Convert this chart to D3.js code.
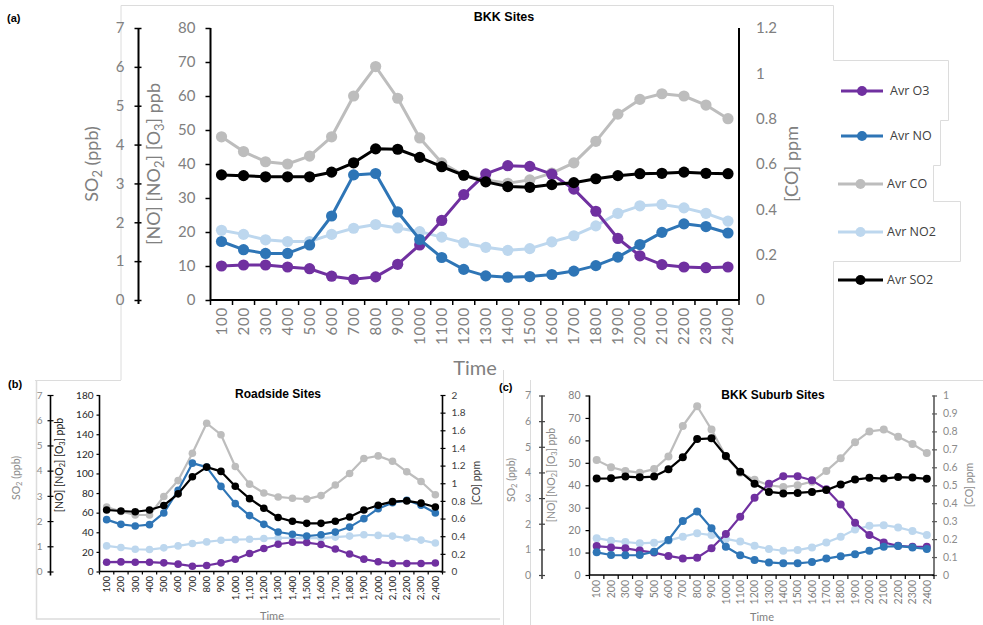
<!DOCTYPE html>
<html>
<head>
<meta charset="utf-8">
<script src="https://cdn.jsdelivr.net/npm/d3@7"></script>
<style>
  body { margin: 0; background: #fff; }
  svg { display: block; }
</style>
</head>
<body>
<svg id="chart" width="983" height="625"></svg>
<script>
// ---- Hour-of-day categories ----
const hoursA = ["100","200","300","400","500","600","700","800","900","1000","1100","1200",
                "1300","1400","1500","1600","1700","1800","1900","2000","2100","2200","2300","2400"];
const hoursB = ["100","200","300","400","500","600","700","800","900","1,000","1,100","1,200",
                "1,300","1,400","1,500","1,600","1,700","1,800","1,900","2,000","2,100","2,200","2,300","2,400"];
const hoursC = hoursA.slice();

// ---- (a) BKK Sites ----
const aO3  = [10.0, 10.3, 10.3, 9.7, 9.2, 7.0, 6.1, 6.8, 10.5, 16.2, 23.4, 31.0, 37.1, 39.5, 39.3, 37.0, 32.6, 26.1, 18.1, 13.0, 10.4, 9.7, 9.5, 9.7];
const aNO  = [17.2, 14.8, 13.7, 13.7, 16.2, 24.7, 36.8, 37.2, 25.9, 17.8, 12.5, 9.0, 7.1, 6.7, 6.9, 7.5, 8.5, 10.1, 12.6, 16.3, 19.9, 22.4, 21.6, 19.7];
const aNO2 = [20.5, 19.3, 17.7, 17.2, 17.2, 19.3, 21.1, 22.2, 21.2, 20.1, 18.5, 16.8, 15.5, 14.6, 15.1, 17.1, 18.9, 21.8, 25.5, 27.7, 28.1, 27.1, 25.5, 23.2];
const aCO  = [0.72, 0.655, 0.61, 0.60, 0.635, 0.72, 0.90, 1.03, 0.89, 0.715, 0.605, 0.55, 0.53, 0.515, 0.53, 0.56, 0.605, 0.70, 0.82, 0.885, 0.91, 0.90, 0.86, 0.80];
const aSO2 = [3.22, 3.20, 3.17, 3.17, 3.17, 3.29, 3.53, 3.89, 3.88, 3.67, 3.43, 3.21, 3.04, 2.92, 2.90, 2.97, 3.02, 3.12, 3.20, 3.25, 3.26, 3.29, 3.26, 3.25];

// ---- (b) Roadside Sites ----
const bO3  = [9.5, 9.8, 9.5, 9.5, 8.8, 7.5, 5.4, 6.1, 8.8, 12.5, 18.3, 23.4, 27.8, 29.8, 29.5, 27.5, 23.0, 17.8, 12.6, 9.9, 8.2, 8.2, 8.2, 8.6];
const bNO  = [52.9, 48.1, 46.4, 47.8, 59.7, 82.7, 110.5, 106.4, 86.8, 69.2, 57.0, 48.1, 40.3, 38.0, 36.1, 37.5, 40.2, 45.3, 53.9, 64.1, 70.2, 72.6, 67.5, 59.7];
const bNO2 = [26.1, 24.4, 22.7, 22.4, 24.1, 26.1, 28.5, 30.2, 31.9, 32.5, 32.9, 33.6, 34.2, 34.2, 34.1, 34.1, 35.1, 36.1, 37.5, 36.8, 36.1, 34.1, 32.0, 29.0];
const bCO  = [0.73, 0.68, 0.64, 0.64, 0.85, 1.03, 1.34, 1.68, 1.55, 1.19, 0.99, 0.89, 0.845, 0.83, 0.82, 0.86, 0.98, 1.11, 1.28, 1.31, 1.25, 1.13, 1.02, 0.87];
const bSO2 = [2.44, 2.40, 2.37, 2.44, 2.62, 3.08, 3.76, 4.14, 3.97, 3.38, 2.89, 2.51, 2.14, 1.99, 1.91, 1.91, 1.99, 2.16, 2.44, 2.63, 2.77, 2.80, 2.71, 2.56];

// ---- (c) BKK Suburb Sites ----
const cO3  = [12.9, 12.3, 11.9, 10.9, 10.0, 8.5, 7.4, 7.7, 11.9, 18.3, 26.0, 34.4, 40.7, 44.0, 44.0, 42.2, 38.2, 31.4, 23.3, 17.8, 14.5, 13.0, 12.6, 12.6];
const cNO  = [10.1, 8.9, 8.8, 8.9, 10.4, 15.6, 24.1, 28.3, 20.8, 12.6, 8.8, 6.7, 5.6, 5.2, 5.2, 5.8, 7.3, 8.4, 9.3, 10.8, 12.6, 12.9, 12.3, 11.6];
const cNO2 = [16.4, 15.3, 14.7, 14.1, 14.4, 15.3, 17.1, 18.6, 17.8, 16.1, 14.9, 13.0, 11.6, 10.8, 11.1, 12.3, 14.5, 17.0, 20.3, 21.9, 22.2, 21.2, 19.6, 17.8];
const cCO  = [0.64, 0.60, 0.58, 0.57, 0.59, 0.66, 0.83, 0.94, 0.81, 0.66, 0.57, 0.53, 0.50, 0.49, 0.50, 0.52, 0.58, 0.65, 0.74, 0.80, 0.81, 0.77, 0.73, 0.68];
const cSO2 = [3.76, 3.77, 3.84, 3.81, 3.84, 4.12, 4.59, 5.30, 5.33, 4.64, 4.03, 3.56, 3.24, 3.18, 3.20, 3.24, 3.31, 3.53, 3.72, 3.79, 3.76, 3.82, 3.80, 3.75];

// Legend entries and colours
const seriesNames  = ["Avr O3", "Avr NO", "Avr CO", "Avr NO2", "Avr SO2"];
const seriesColors = { O3: "#7030A0", NO: "#2E75B6", CO: "#BDBDBD", NO2: "#BDD7EE", SO2: "#000000" };
const legendKeys   = ["O3", "NO", "CO", "NO2", "SO2"];

const svg = d3.select("#chart");
const TICK_FONT = "Lato, 'Open Sans', sans-serif";
const TITLE_FONT = "'Liberation Sans', Arial, sans-serif";

// Light panel border strokes
const frame = svg.append("g").attr("fill", "none").attr("stroke", "#dcdcdc").attr("stroke-width", 1);
frame.append("path").attr("d",
  "M121,380 V5.5 H833.5 V60.5 H948.5 V120.5 H940.5 V165.5 H933.5 V201.5 H960.5 V261.5 H833.5 V380.5");
frame.append("path").attr("d", "M35,380.5 H121 M833.5,370 V380.5 H983");
frame.append("path").attr("d", "M36.5,380.5 V619 H500").attr("stroke-width", 1.5);
frame.append("path").attr("d", "M503.5,370 V625 M530.5,380 V625");

// Axis title with subscript parts
function richText(sel, parts, size) {
  parts.forEach(([t, sub]) => {
    const ts = sel.append("tspan").text(t);
    if (sub) ts.attr("font-size", size * 0.72).attr("dy", size * 0.22);
    else ts.attr("dy", 0);
  });
  // re-align baseline after subscripts
  sel.selectAll("tspan").each(function(d, i, nodes) {
    if (i > 0 && parts[i - 1][1] && !parts[i][1]) d3.select(this).attr("dy", -size * 0.22);
  });
}
const so2Title  = [["SO", 0], ["2", 1], [" (ppb)", 0]];
const mainTitle = [["[NO] [NO", 0], ["2", 1], ["] [O", 0], ["3", 1], ["] ppb", 0]];
const coTitle   = [["[CO] ppm", 0]];

function vTitle(g, x, y, parts, size, color, weight) {
  const t = g.append("text")
    .attr("transform", `translate(${x},${y}) rotate(-90)`)
    .attr("text-anchor", "middle").attr("dy", "0.35em")
    .attr("font-family", TICK_FONT).attr("font-size", size)
    .attr("font-weight", weight || "normal")
    .attr("fill", color);
  richText(t, parts, size);
}

function fmt(step) {
  return d => {
    const s = (+d).toFixed(step < 1 ? 1 : 0);
    return s.endsWith(".0") ? s.slice(0, -2) : s;
  };
}

function drawPanel(p) {
  const g = svg.append("g");
  const x = d3.scaleBand().domain(p.labels).range([p.x0, p.x1]);
  const bw = x.bandwidth();
  const cx = i => x(p.labels[i]) + bw / 2;
  const yMain = d3.scaleLinear().domain([0, p.mainMax]).range([p.yBot, p.yTop]);
  const yCO   = d3.scaleLinear().domain([0, p.coMax]).range([p.yBot, p.yTop]);
  const ySO2  = d3.scaleLinear().domain([0, 7]).range([p.yBot, p.yTop]);

  const ticksOf = (max, step) => d3.range(0, Math.round(max / step) + 1).map(i => +(i * step).toFixed(2));

  // SO2 axis (far left)
  const aS = g.append("g").attr("transform", `translate(${p.so2X},0)`)
    .call(d3.axisLeft(ySO2).tickValues(ticksOf(7, 1)).tickFormat(fmt(1))
      .tickSize(p.so2Tick).tickPadding(p.so2Pad));
  aS.select(".domain").attr("stroke", p.so2AxisColor).attr("stroke-width", p.axisW)
    .attr("d", `M0,${p.yTop}V${p.yBot + 4}`);
  aS.selectAll(".tick line").attr("stroke", p.so2AxisColor).attr("stroke-width", p.axisW * 0.75)
    .attr("x1", 3);
  aS.selectAll(".tick text").attr("fill", p.so2LabelColor)
    .attr("font-family", TICK_FONT).attr("font-size", p.tickSize);

  // Main (ppb) axis
  const aM = g.append("g").attr("transform", `translate(${p.x0},0)`)
    .call(d3.axisLeft(yMain).tickValues(ticksOf(p.mainMax, p.mainStep)).tickFormat(fmt(1))
      .tickSize(p.mainTick).tickPadding(p.mainPad));
  aM.select(".domain").attr("stroke", "#000").attr("stroke-width", p.axisW)
    .attr("d", `M0,${p.yTop}V${p.yBot}`);
  aM.selectAll(".tick line").attr("stroke", "#000").attr("stroke-width", p.axisW * 0.75);
  aM.selectAll(".tick text").attr("fill", p.mainLabelColor)
    .attr("font-family", TICK_FONT).attr("font-size", p.tickSize);

  // CO axis (right)
  const aC = g.append("g").attr("transform", `translate(${p.x1},0)`)
    .call(d3.axisRight(yCO).tickValues(ticksOf(p.coMax, p.coStep)).tickFormat(fmt(p.coStep))
      .tickSize(p.coTick).tickPadding(p.coPad));
  aC.select(".domain").attr("stroke", p.coAxisColor).attr("stroke-width", p.axisW)
    .attr("d", `M0,${p.yTop}V${p.yBot}`);
  aC.selectAll(".tick line").attr("stroke", p.coAxisColor).attr("stroke-width", p.axisW * 0.75)
    .attr("x1", p.coTick > 0 ? -2 : 0);
  aC.selectAll(".tick text").attr("fill", p.coLabelColor)
    .attr("font-family", TICK_FONT).attr("font-size", p.tickSize);

  // Category (time) axis
  const xa = g.append("g");
  xa.append("line").attr("x1", p.x0).attr("x2", p.x1).attr("y1", p.yBot).attr("y2", p.yBot)
    .attr("stroke", "#000").attr("stroke-width", p.axisW);
  const edges = p.labels.map(l => x(l)).concat([p.x1]);
  xa.selectAll("line.tk").data(edges).join("line").attr("class", "tk")
    .attr("x1", d => d).attr("x2", d => d)
    .attr("y1", p.yBot).attr("y2", p.yBot + p.xTick)
    .attr("stroke", "#000").attr("stroke-width", p.axisW * 0.75);
  xa.selectAll("text").data(p.labels).join("text")
    .attr("transform", d => `translate(${x(d) + bw / 2},${p.xLabelY}) rotate(-90)`)
    .attr("text-anchor", "end").attr("dy", "0.35em")
    .attr("font-family", TICK_FONT).attr("font-size", p.xTickSize)
    .attr("letter-spacing", p.xSpacing)
    .attr("fill", p.xLabelColor)
    .text(d => d);

  // Titles
  vTitle(g, p.so2TitleX, p.titleY, so2Title, p.axTitleSize, p.so2TitleColor);
  vTitle(g, p.mainTitleX, p.mainTitleY, mainTitle, p.axTitleSize, p.mainTitleColor);
  vTitle(g, p.coTitleX, p.coTitleY, coTitle, p.axTitleSize, p.coTitleColor);
  g.append("text").attr("x", p.timeX).attr("y", p.timeY).attr("text-anchor", "middle")
    .attr("font-family", TICK_FONT).attr("font-size", p.timeSize).attr("fill", "#808080").text("Time");
  g.append("text").attr("x", p.headX).attr("y", p.headY).attr("text-anchor", "middle")
    .attr("font-family", TITLE_FONT).attr("font-weight", "bold").attr("font-size", p.headSize)
    .attr("fill", "#000").text(p.head);
  g.append("text").attr("x", p.tagX).attr("y", p.tagY)
    .attr("font-family", TITLE_FONT).attr("font-weight", "bold").attr("font-size", 11)
    .attr("fill", "#000").text(p.tag);

  // Series, back to front
  const series = [
    { key: "NO2", vals: p.NO2, y: yMain },
    { key: "CO",  vals: p.CO,  y: yCO },
    { key: "O3",  vals: p.O3,  y: yMain },
    { key: "NO",  vals: p.NO,  y: yMain },
    { key: "SO2", vals: p.SO2, y: ySO2 }
  ];
  series.forEach(s => {
    const sg = g.append("g");
    const line = d3.line().x((d, i) => cx(i)).y(d => s.y(d));
    sg.append("path").datum(s.vals).attr("d", line)
      .attr("fill", "none").attr("stroke", seriesColors[s.key])
      .attr("stroke-width", p.lineW).attr("stroke-linejoin", "round");
    sg.selectAll("circle").data(s.vals).join("circle")
      .attr("cx", (d, i) => cx(i)).attr("cy", d => s.y(d)).attr("r", p.r)
      .attr("fill", seriesColors[s.key]);
  });
}

drawPanel({
  labels: hoursA, x0: 210.5, x1: 739, yTop: 28, yBot: 300,
  so2X: 138.5, mainMax: 80, mainStep: 10, coMax: 1.2, coStep: 0.2,
  O3: aO3, NO: aNO, NO2: aNO2, CO: aCO, SO2: aSO2,
  axisW: 2, lineW: 3, r: 5.6,
  tickSize: 15, xTickSize: 15, xSpacing: 0.8, xLabelY: 307,
  so2Tick: 4, so2Pad: 10, mainTick: 5, mainPad: 10, coTick: 0, coPad: 17, xTick: 5,
  so2AxisColor: "#000", coAxisColor: "#000",
  so2LabelColor: "#808080", mainLabelColor: "#808080", coLabelColor: "#808080", xLabelColor: "#808080",
  axTitleSize: 18, so2TitleColor: "#808080", mainTitleColor: "#808080", coTitleColor: "#808080",
  so2TitleX: 98, titleY: 164, mainTitleX: 160, mainTitleY: 164, coTitleX: 798, coTitleY: 164,
  timeX: 475, timeY: 375, timeSize: 20,
  head: "BKK Sites", headX: 504, headY: 21, headSize: 12.5,
  tag: "(a)", tagX: 7, tagY: 22
});

drawPanel({
  labels: hoursB, x0: 99.5, x1: 442.5, yTop: 395, yBot: 571.5,
  so2X: 50.5, mainMax: 180, mainStep: 20, coMax: 2, coStep: 0.2,
  O3: bO3, NO: bNO, NO2: bNO2, CO: bCO, SO2: bSO2,
  axisW: 1.6, lineW: 2.2, r: 3.8,
  tickSize: 10, xTickSize: 9.5, xSpacing: 0, xLabelY: 576,
  so2Tick: 3, so2Pad: 5, mainTick: 3, mainPad: 3, coTick: 3, coPad: 6, xTick: 3,
  so2AxisColor: "#000", coAxisColor: "#000",
  so2LabelColor: "#8c8c8c", mainLabelColor: "#262626", coLabelColor: "#404040", xLabelColor: "#262626",
  axTitleSize: 10.5, so2TitleColor: "#8c8c8c", mainTitleColor: "#1a1a1a", coTitleColor: "#404040",
  so2TitleX: 20, titleY: 478, mainTitleX: 63, mainTitleY: 465, coTitleX: 480, coTitleY: 483,
  timeX: 272, timeY: 620, timeSize: 11,
  head: "Roadside Sites", headX: 278, headY: 398, headSize: 12,
  tag: "(b)", tagX: 8, tagY: 388
});

drawPanel({
  labels: hoursC, x0: 589.5, x1: 934, yTop: 395.5, yBot: 575,
  so2X: 542, mainMax: 80, mainStep: 10, coMax: 1, coStep: 0.1,
  O3: cO3, NO: cNO, NO2: cNO2, CO: cCO, SO2: cSO2,
  axisW: 1.6, lineW: 2.2, r: 4,
  tickSize: 10.5, xTickSize: 10.5, xSpacing: 0, xLabelY: 580,
  so2Tick: 3, so2Pad: 8, mainTick: 4, mainPad: 5, coTick: 3, coPad: 6, xTick: 4,
  so2AxisColor: "#404040", coAxisColor: "#595959",
  so2LabelColor: "#8c8c8c", mainLabelColor: "#808080", coLabelColor: "#8c8c8c", xLabelColor: "#808080",
  axTitleSize: 10.5, so2TitleColor: "#8c8c8c", mainTitleColor: "#8c8c8c", coTitleColor: "#8c8c8c",
  so2TitleX: 515, titleY: 480, mainTitleX: 555, mainTitleY: 475, coTitleX: 973, coTitleY: 485,
  timeX: 762, timeY: 621, timeSize: 11,
  head: "BKK Suburb Sites", headX: 773, headY: 399, headSize: 12,
  tag: "(c)", tagX: 499, tagY: 391
});

// Legend for the upper panel
const legendY = [91, 136, 184, 232, 280];
const lg = svg.append("g");
legendKeys.forEach((k, i) => {
  const y = legendY[i];
  const x0 = i < 2 ? 841 : 838;
  lg.append("line").attr("x1", x0).attr("x2", 883).attr("y1", y).attr("y2", y)
    .attr("stroke", seriesColors[k]).attr("stroke-width", 3);
  lg.append("circle").attr("cx", (x0 + 883) / 2).attr("cy", y).attr("r", 5).attr("fill", seriesColors[k]);
  lg.append("text").attr("x", i < 2 ? 890 : 887).attr("y", y).attr("dy", "0.35em")
    .attr("font-family", "'Open Sans', Lato, sans-serif").attr("font-size", 12.5)
    .attr("fill", "#404040").text(seriesNames[i]);
});
</script>
</body>
</html>
